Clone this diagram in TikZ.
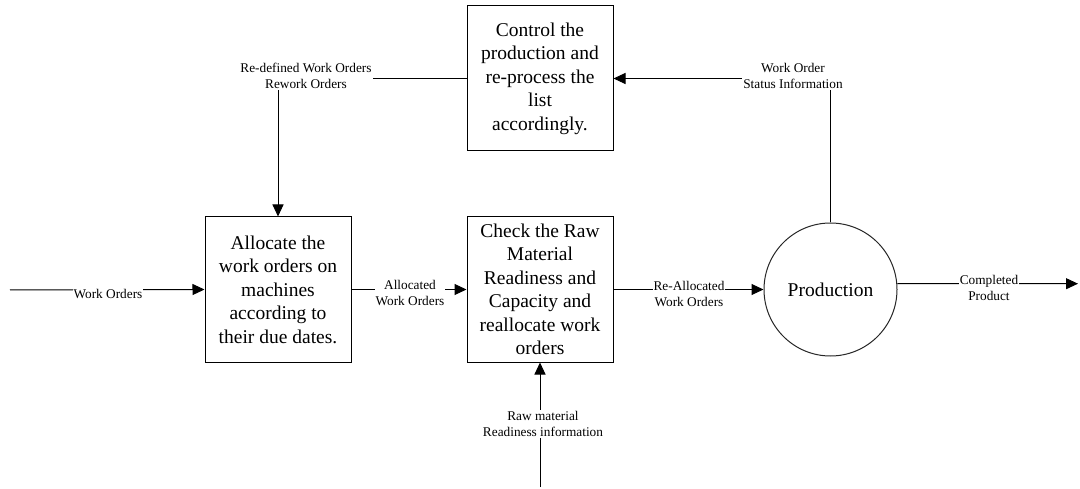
\documentclass[tikz,border=0pt]{standalone}
\usepackage{fontspec}
\setmainfont{Liberation Serif}
\usepackage{tikz}
\usetikzlibrary{shapes, arrows.meta, positioning}

\begin{document}
\begin{tikzpicture}
  [
    x=1pt, y=-1pt,
    Box/.style={rectangle, draw=black, line width=1pt, minimum width=146pt, minimum height=145pt, inner sep=0pt, align=center, font=\fontsize{19.5}{23.5}\selectfont},
    Round/.style={circle, draw=black!85, line width=1pt, minimum size=133pt, inner sep=0pt, font=\fontsize{19.5}{23.5}\selectfont},
    Tag/.style={fill=white, inner sep=1pt, align=center, font=\fontsize{13.3}{15.8}\selectfont},
    Flow/.style={draw, line width=1pt, -{Triangle[length=12pt, width=11pt]}}
  ]
  \useasboundingbox (0,0) rectangle (1080,489);
  % Nodes
  \node[Box] (ctrl) at (540, 78.5) {Control the\\production and\\re-process the\\list\\accordingly.};
  \node[Box] (alloc) at (278, 289.5) {Allocate the\\work orders on\\machines\\according to\\their due dates.};
  \node[Box] (check) at (540, 289.5) {Check the Raw\\Material\\Readiness and\\Capacity and\\reallocate work\\orders};
  \node[Round] (prod) at (830.5, 289.5) {Production};
  \coordinate (in) at (10, 290);
  \coordinate (out) at (1078, 283.7);
  \coordinate (raw) at (540, 487);
  % Lines
  \path [Flow] (in) -- (alloc.west);
  \path [Flow] (alloc.east) -- (check.west);
  \path [Flow] (check.east) -- (prod.west);
  \path [Flow] (prod.5) -- (out);
  \path [Flow] (raw) -- (check.south);
  \path [Flow] (prod.north) |- (ctrl.east);
  \path [Flow] (ctrl.west) -| (alloc.north);
  % Labels
  \node[Tag] (tin) at (108, 294) {Work Orders};
  \node[Tag] (talloc) at (410, 293) {Allocated\\Work Orders};
  \node[Tag] (trealloc) at (689, 294) {Re-Allocated\\Work Orders};
  \node[Tag] (tout) at (989, 288) {Completed\\Product};
  \node[Tag] (traw) at (543, 424) {Raw material\\Readiness information};
  \node[Tag] (tstatus) at (793, 76) {Work Order\\Status Information};
  \node[Tag] (trework) at (306, 76) {Re-defined Work Orders\\Rework Orders};
\end{tikzpicture}
\end{document}
